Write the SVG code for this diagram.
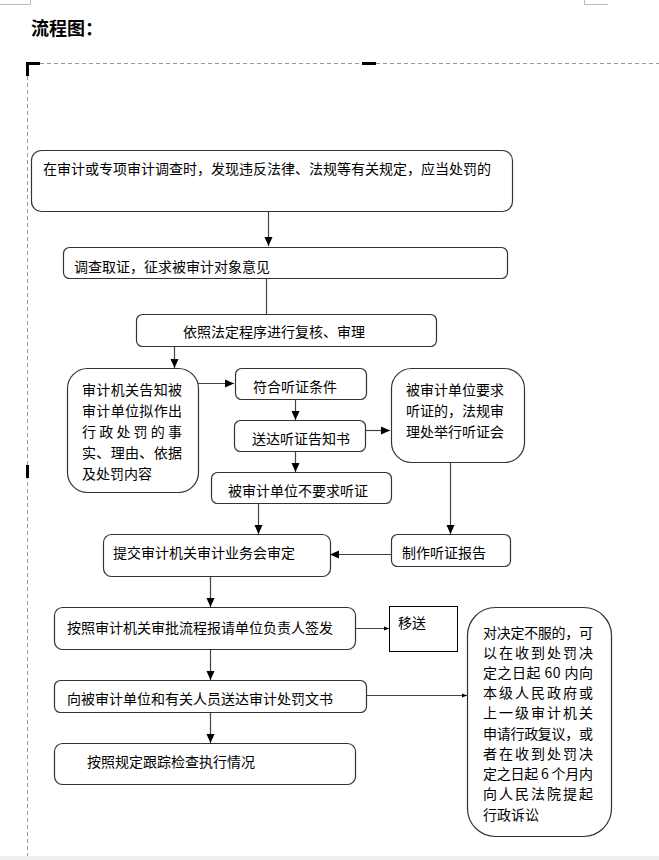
<svg xmlns="http://www.w3.org/2000/svg" width="659" height="860" viewBox="0 0 659 860">
<style>
.box{fill:#fff;stroke:#333;stroke-width:1.2}
.t{font-family:"Noto Sans CJK SC","Liberation Sans",sans-serif;font-size:14px;fill:#000}
.c{fill:none;stroke:#444;stroke-width:1.2}
.dash{fill:none;stroke:#999;stroke-width:1;stroke-dasharray:4 3}
.mk{fill:#000}
</style>
<defs>
<marker id="ah" markerUnits="userSpaceOnUse" markerWidth="10" markerHeight="10" refX="9" refY="5" orient="auto">
<path d="M0,1 L9,5 L0,9 Z" fill="#000"/>
</marker>
<marker id="as" markerUnits="userSpaceOnUse" markerWidth="6" markerHeight="6" refX="5" refY="3" orient="auto">
<path d="M0,1 L5,3 L0,5 Z" fill="#000"/>
</marker>
</defs>
<rect width="659" height="860" fill="#fff"/>
<rect x="0" y="856" width="659" height="4" fill="#eeeeee"/>
<path d="M0,4.5 H30.5 V0 M584.5,0 V4.5 H608" fill="none" stroke="#bbb" stroke-width="1"/>
<text x="31" y="35" font-family="'Noto Sans CJK SC',sans-serif" font-size="18" font-weight="bold" fill="#000">流程图：</text>
<path class="dash" d="M40,63.5 H659 M27.5,76 V856"/>
<path d="M27.5,76 V63.5 H40" fill="none" stroke="#000" stroke-width="3"/>
<rect class="mk" x="362" y="62" width="14" height="3"/>
<rect class="mk" x="26" y="465" width="3" height="13"/>

<g id="connectors">
<path class="c" d="M268.5,212 V246" marker-end="url(#ah)"/>
<path class="c" d="M266.5,278 V314"/>
<path class="c" d="M174.5,346 V368" marker-end="url(#ah)"/>
<path class="c" d="M198,383.5 H234" marker-end="url(#ah)"/>
<path class="c" d="M295.5,399 V420" marker-end="url(#ah)"/>
<path class="c" d="M365,430.5 H390" marker-end="url(#ah)"/>
<path class="c" d="M295.5,451 V472" marker-end="url(#ah)"/>
<path class="c" d="M258.5,503 V534" marker-end="url(#ah)"/>
<path class="c" d="M450.5,462 V534" marker-end="url(#ah)"/>
<path class="c" d="M391,554.5 H330" marker-end="url(#ah)"/>
<path class="c" d="M210.5,576 V607" marker-end="url(#ah)"/>
<path class="c" d="M355,628.5 H389" marker-end="url(#as)"/>
<path class="c" d="M210.5,649 V680" marker-end="url(#ah)"/>
<path class="c" d="M366,695.5 H467" marker-end="url(#as)"/>
<path class="c" d="M210.5,712 V743" marker-end="url(#ah)"/>
</g>

<g id="n1"><rect class="box" x="31.5" y="150.5" width="481" height="61" rx="10"/>
<text class="t" x="43" y="174">在审计或专项审计调查时，发现违反法律、法规等有关规定，应当处罚的</text></g>
<g id="n2"><rect class="box" x="63.5" y="247.5" width="444" height="31" rx="6"/>
<text class="t" x="74" y="272">调查取证，征求被审计对象意见</text></g>
<g id="n3"><rect class="box" x="136.5" y="314.5" width="300" height="32" rx="6"/>
<text class="t" x="183" y="337">依照法定程序进行复核、审理</text></g>
<g id="n4"><rect class="box" x="67.5" y="368.5" width="131" height="124" rx="20"/>
<text class="t" x="82" y="395" textLength="100" lengthAdjust="spacing">审计机关告知被</text>
<text class="t" x="82" y="416" textLength="100" lengthAdjust="spacing">审计单位拟作出</text>
<text class="t" x="82" y="437" textLength="100" lengthAdjust="spacing">行 政 处 罚 的 事</text>
<text class="t" x="82" y="458" textLength="100" lengthAdjust="spacing">实、理由、依据</text>
<text class="t" x="82" y="479">及处罚内容</text></g>
<g id="n5"><rect class="box" x="235.5" y="368.5" width="131" height="31" rx="6"/>
<text class="t" x="253" y="392">符合听证条件</text></g>
<g id="n6"><rect class="box" x="234.5" y="420.5" width="131" height="31" rx="6"/>
<text class="t" x="252" y="444">送达听证告知书</text></g>
<g id="n7"><rect class="box" x="391.5" y="368.5" width="133" height="94" rx="20"/>
<text class="t" x="406" y="395">被审计单位要求</text>
<text class="t" x="406" y="416">听证的，法规审</text>
<text class="t" x="406" y="437">理处举行听证会</text></g>
<g id="n8"><rect class="box" x="211.5" y="472.5" width="180" height="31" rx="6"/>
<text class="t" x="228" y="496">被审计单位不要求听证</text></g>
<g id="n9"><rect class="box" x="103.5" y="534.5" width="227" height="42" rx="8"/>
<text class="t" x="113" y="558">提交审计机关审计业务会审定</text></g>
<g id="n10"><rect class="box" x="391.5" y="534.5" width="119" height="32" rx="6"/>
<text class="t" x="402" y="558">制作听证报告</text></g>
<g id="n11"><rect class="box" x="54.5" y="607.5" width="301" height="42" rx="8"/>
<text class="t" x="67" y="633">按照审计机关审批流程报请单位负责人签发</text></g>
<g id="n12"><rect x="389.5" y="606.5" width="68" height="45" fill="#fff" stroke="#000" stroke-width="1"/>
<text class="t" x="398" y="628">移送</text></g>
<g id="n13"><rect class="box" x="54.5" y="680.5" width="312" height="32" rx="6"/>
<text class="t" x="67" y="704">向被审计单位和有关人员送达审计处罚文书</text></g>
<g id="n14"><rect class="box" x="54.5" y="743.5" width="301" height="41" rx="8"/>
<text class="t" x="87" y="767">按照规定跟踪检查执行情况</text></g>
<g id="n15"><rect class="box" x="467.5" y="607.5" width="144" height="229" rx="28"/>
<text class="t" x="483" y="638" textLength="110" lengthAdjust="spacing">对决定不服的，可</text>
<text class="t" x="483" y="658" textLength="110" lengthAdjust="spacing">以 在 收 到 处 罚 决</text>
<text class="t" x="483" y="678" textLength="110" lengthAdjust="spacing">定之日起 60 内向</text>
<text class="t" x="483" y="698" textLength="110" lengthAdjust="spacing">本 级 人 民 政 府 或</text>
<text class="t" x="483" y="718" textLength="110" lengthAdjust="spacing">上 一 级 审 计 机 关</text>
<text class="t" x="483" y="739" textLength="110" lengthAdjust="spacing">申请行政复议，或</text>
<text class="t" x="483" y="759" textLength="110" lengthAdjust="spacing">者 在 收 到 处 罚 决</text>
<text class="t" x="483" y="779" textLength="110" lengthAdjust="spacing">定之日起 6 个月内</text>
<text class="t" x="483" y="799" textLength="110" lengthAdjust="spacing">向 人 民 法 院 提 起</text>
<text class="t" x="483" y="820">行政诉讼</text></g>
</svg>
